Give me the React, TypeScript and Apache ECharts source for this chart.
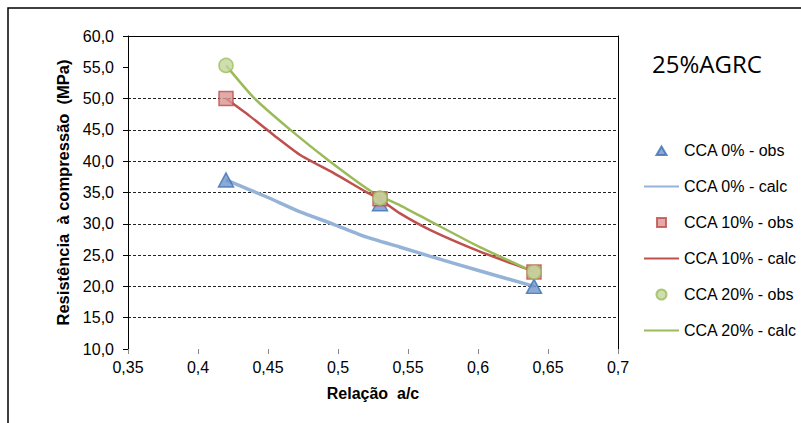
import React, { useEffect, useRef } from "react";
import * as echarts from "echarts";

const titleText = "25%AGRC";
const xAxisName = "Relação  a/c";
const yAxisName = "Resistência  à compressão  (MPa)";

const obsX = [0.42, 0.53, 0.64];
const obs0 = [37.0, 33.2, 20.0];
const obs10 = [50.0, 34.0, 22.3];
const obs20 = [55.3, 34.1, 22.3];

const calc0X = [0.42, 0.45, 0.473, 0.496, 0.52, 0.544, 0.566, 0.601, 0.637, 0.64];
const calc0 = [37.0, 34.2, 31.9, 30.0, 27.9, 26.3, 24.8, 22.5, 20.2, 20.0];

const calc10X = [0.42, 0.437, 0.454, 0.473, 0.497, 0.52, 0.53, 0.544, 0.566, 0.601, 0.637, 0.64];
const calc10 = [50.0, 47.2, 44.2, 41.0, 38.1, 35.1, 33.9, 31.7, 29.0, 25.6, 22.6, 22.3];

const calc20X = [0.42, 0.44, 0.466, 0.494, 0.525, 0.544, 0.566, 0.601, 0.637, 0.64];
const calc20 = [55.3, 50.1, 45.0, 40.0, 35.0, 33.0, 30.4, 26.3, 22.6, 22.3];

const seriesNames = [
  "CCA 0% - obs",
  "CCA 0% - calc",
  "CCA 10% - obs",
  "CCA 10% - calc",
  "CCA 20% - obs",
  "CCA 20% - calc",
];
const LINE_ICON = "path://M0 0 H35 V2 H0 Z";
const legendIcons = [
  "path://M0 0 M35 10 M12.5 9.5 L17.5 1 L22.5 9.5 Z",
  LINE_ICON,
  "path://M0 0 M35 10 M13 0.5 H22 V9.5 H13 Z",
  LINE_ICON,
  "circle",
  LINE_ICON,
];

const pair = (xs: number[], ys: number[]) => xs.map((x, i) => [x, ys[i]]);

const FONT = "'Liberation Sans', Arial, sans-serif";

export default function App() {
  const ref = useRef<HTMLDivElement>(null);
  useEffect(() => {
    if (!ref.current) return;
    const chart = echarts.init(ref.current, undefined, { renderer: "svg" });
    const gridColors = [
      "rgba(0,0,0,0)",
      "#222", "#222", "#222", "#222", "#222", "#222", "#222", "#222",
      "rgba(0,0,0,0)",
      "rgba(0,0,0,0)",
    ];
    chart.setOption({
      animation: false,
      backgroundColor: "#fff",
      textStyle: { fontFamily: FONT },
      graphic: [
        {
          type: "rect",
          shape: { x: 8, y: 8, width: 900, height: 600 },
          style: { fill: "none", stroke: "#000", lineWidth: 1.5 },
          silent: true,
        },
      ],
      title: {
        text: titleText,
        left: 647,
        top: 46,
        textStyle: {
          fontFamily: "'Open Sans', sans-serif",
          fontSize: 24,
          fontWeight: "normal",
          color: "#000",
        },
      },
      legend: {
        orient: "vertical",
        left: 638,
        top: 137,
        itemWidth: 35,
        itemHeight: 10,
        itemGap: 19,
        symbolKeepAspect: true,
        data: seriesNames.map((n, i) => ({ name: n, icon: legendIcons[i] })),
        textStyle: { fontFamily: FONT, fontSize: 16, color: "#000", lineHeight: 17 },
      },
      grid: { left: 128, right: 183, top: 36, bottom: 74 },
      xAxis: [
        {
          type: "value",
          min: 0.35,
          max: 0.7,
          interval: 0.05,
          name: xAxisName,
          nameLocation: "middle",
          nameGap: 36,
          nameTextStyle: { fontFamily: FONT, fontSize: 16, fontWeight: "bold", color: "#000" },
          axisLine: { show: false },
          axisTick: { show: true, length: 5, lineStyle: { color: "#888" } },
          axisLabel: {
            margin: 10,
            fontFamily: FONT,
            fontSize: 16,
            color: "#000",
            formatter: (v: number) => String(Number(v.toFixed(2))).replace(".", ","),
          },
          splitLine: { show: false },
        },
        {
          type: "value",
          position: "top",
          min: 0.35,
          max: 0.7,
          interval: 0.05,
          axisLine: { show: true, onZero: false, lineStyle: { color: "#000", width: 1 } },
          axisTick: { show: false },
          axisLabel: { show: false },
          splitLine: { show: false },
        },
      ],
      yAxis: [
        {
          type: "value",
          min: 10,
          max: 60,
          interval: 5,
          name: yAxisName,
          nameLocation: "middle",
          nameGap: 54,
          nameTextStyle: { fontFamily: FONT, fontSize: 16.5, fontWeight: "bold", color: "#000" },
          axisLine: { show: true, onZero: false, lineStyle: { color: "#000", width: 1 } },
          axisTick: { show: true, length: 5, lineStyle: { color: "#000" } },
          axisLabel: {
            margin: 14,
            fontFamily: FONT,
            fontSize: 16,
            color: "#000",
            formatter: (v: number) => v.toFixed(1).replace(".", ","),
          },
          splitLine: {
            show: true,
            lineStyle: { color: gridColors, type: [3, 2], width: 1 },
          },
        },
        {
          type: "value",
          position: "right",
          min: 10,
          max: 60,
          interval: 5,
          axisLine: { show: true, onZero: false, lineStyle: { color: "#000", width: 1 } },
          axisTick: { show: false },
          axisLabel: { show: false },
          splitLine: { show: false },
        },
      ],
      series: [
        {
          name: seriesNames[0],
          type: "scatter",
          z: 5,
          symbol: "triangle",
          symbolSize: [15, 14],
          itemStyle: { color: "#6e95cc", borderColor: "#3d6fb3", borderWidth: 1.5 },
          data: pair(obsX, obs0),
        },
        {
          name: seriesNames[1],
          type: "line",
          z: 2,
          symbol: "none",
          smooth: 0.2,
          lineStyle: { color: "#95b3d7", width: 3.5 },
          itemStyle: { color: "#95b3d7" },
          data: pair(calc0X, calc0),
        },
        {
          name: seriesNames[2],
          type: "scatter",
          z: 6,
          symbol: "rect",
          symbolSize: 14,
          itemStyle: { color: "#d99694", borderColor: "#be4b48", borderWidth: 1.5 },
          data: pair(obsX, obs10),
        },
        {
          name: seriesNames[3],
          type: "line",
          z: 3,
          symbol: "none",
          smooth: 0.2,
          lineStyle: { color: "#c0504d", width: 2.5 },
          itemStyle: { color: "#c0504d" },
          data: pair(calc10X, calc10),
        },
        {
          name: seriesNames[4],
          type: "scatter",
          z: 7,
          symbol: "circle",
          symbolSize: 14,
          itemStyle: { color: "#c3d69b", borderColor: "#9bbb59", borderWidth: 1.5 },
          data: pair(obsX, obs20),
        },
        {
          name: seriesNames[5],
          type: "line",
          z: 4,
          symbol: "none",
          smooth: 0.2,
          lineStyle: { color: "#9bbb59", width: 2.5 },
          itemStyle: { color: "#9bbb59" },
          data: pair(calc20X, calc20),
        },
      ],
    });
    return () => chart.dispose();
  }, []);
  return (
    <div
      ref={ref}
      style={{ position: "fixed", left: 0, top: 0, width: 801, height: 423 }}
    />
  );
}
